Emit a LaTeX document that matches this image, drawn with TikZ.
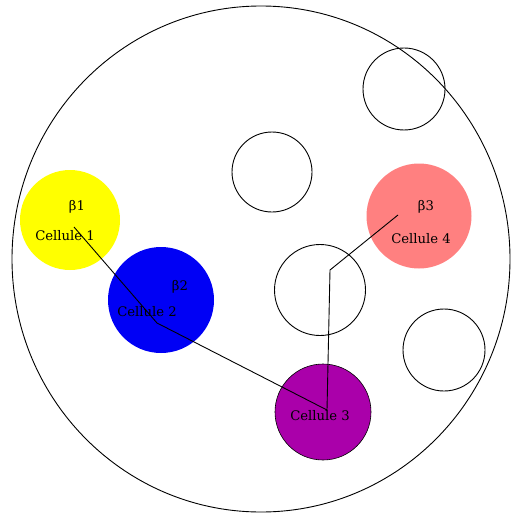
\documentclass[tikz,border=0pt]{standalone}
\usepackage{fontspec}
\setmainfont{DejaVu Serif}
\usetikzlibrary{shapes.geometric}
\definecolor{cellyellow}{RGB}{255,255,0}
\definecolor{cellblue}{RGB}{0,0,245}
\definecolor{cellpink}{RGB}{255,128,128}
\definecolor{cellpurple}{RGB}{170,0,170}
\tikzset{
  ring/.style={circle, draw=black, line width=0.9pt, inner sep=0pt, minimum size=#1},
  cell/.style={circle, inner sep=0pt, minimum size=#1},
  lbl/.style={inner sep=0pt, font=\fontsize{13.2}{13.2}\selectfont},
  link/.style={draw=black, line width=0.9pt}
}
\begin{document}
\begin{tikzpicture}[x=1pt,y=-1pt]
\useasboundingbox (0,0) rectangle (511,516);
% outer boundary
\node[ellipse, draw=black, line width=0.9pt, minimum width=498pt, minimum height=506pt, inner sep=0pt] (outer) at (261,259) {};
% empty circles
\node[ring=82pt] (e1) at (404,89) {};
\node[ring=80pt] (e2) at (272,172) {};
\node[ring=91pt] (e3) at (320,290) {};
\node[ring=82pt] (e4) at (444,350) {};
% coloured cells
\node[cell=100pt, fill=cellyellow] (c1) at (70,220) {};
\node[cell=106pt, fill=cellblue] (c2) at (161,300) {};
\node[cell=105pt, fill=cellpink] (c4) at (419,216) {};
\node[cell=96pt, fill=cellpurple, draw=black, line width=0.6pt] (c3) at (323,412) {};
% labels
\node[lbl] (b1) at (77,207) {β1};
\node[lbl] (t1) at (65,236) {Cellule 1};
\node[lbl] (b2) at (180,287) {β2};
\node[lbl] (t2) at (147,312) {Cellule 2};
\node[lbl] (b3) at (426,207) {β3};
\node[lbl] (t4) at (421,239) {Cellule 4};
\node[lbl] (t3) at (320,416) {Cellule 3};
% path points
\coordinate (p1) at (74,227);
\coordinate (p2) at (157,323);
\coordinate (p3) at (327,410);
\coordinate (p4) at (330,270);
\coordinate (p5) at (398,215);
\draw[link] (p1) -- (p2) -- (p3);
\draw[link] (p3) -- (p4) -- (p5);
\end{tikzpicture}
\end{document}
